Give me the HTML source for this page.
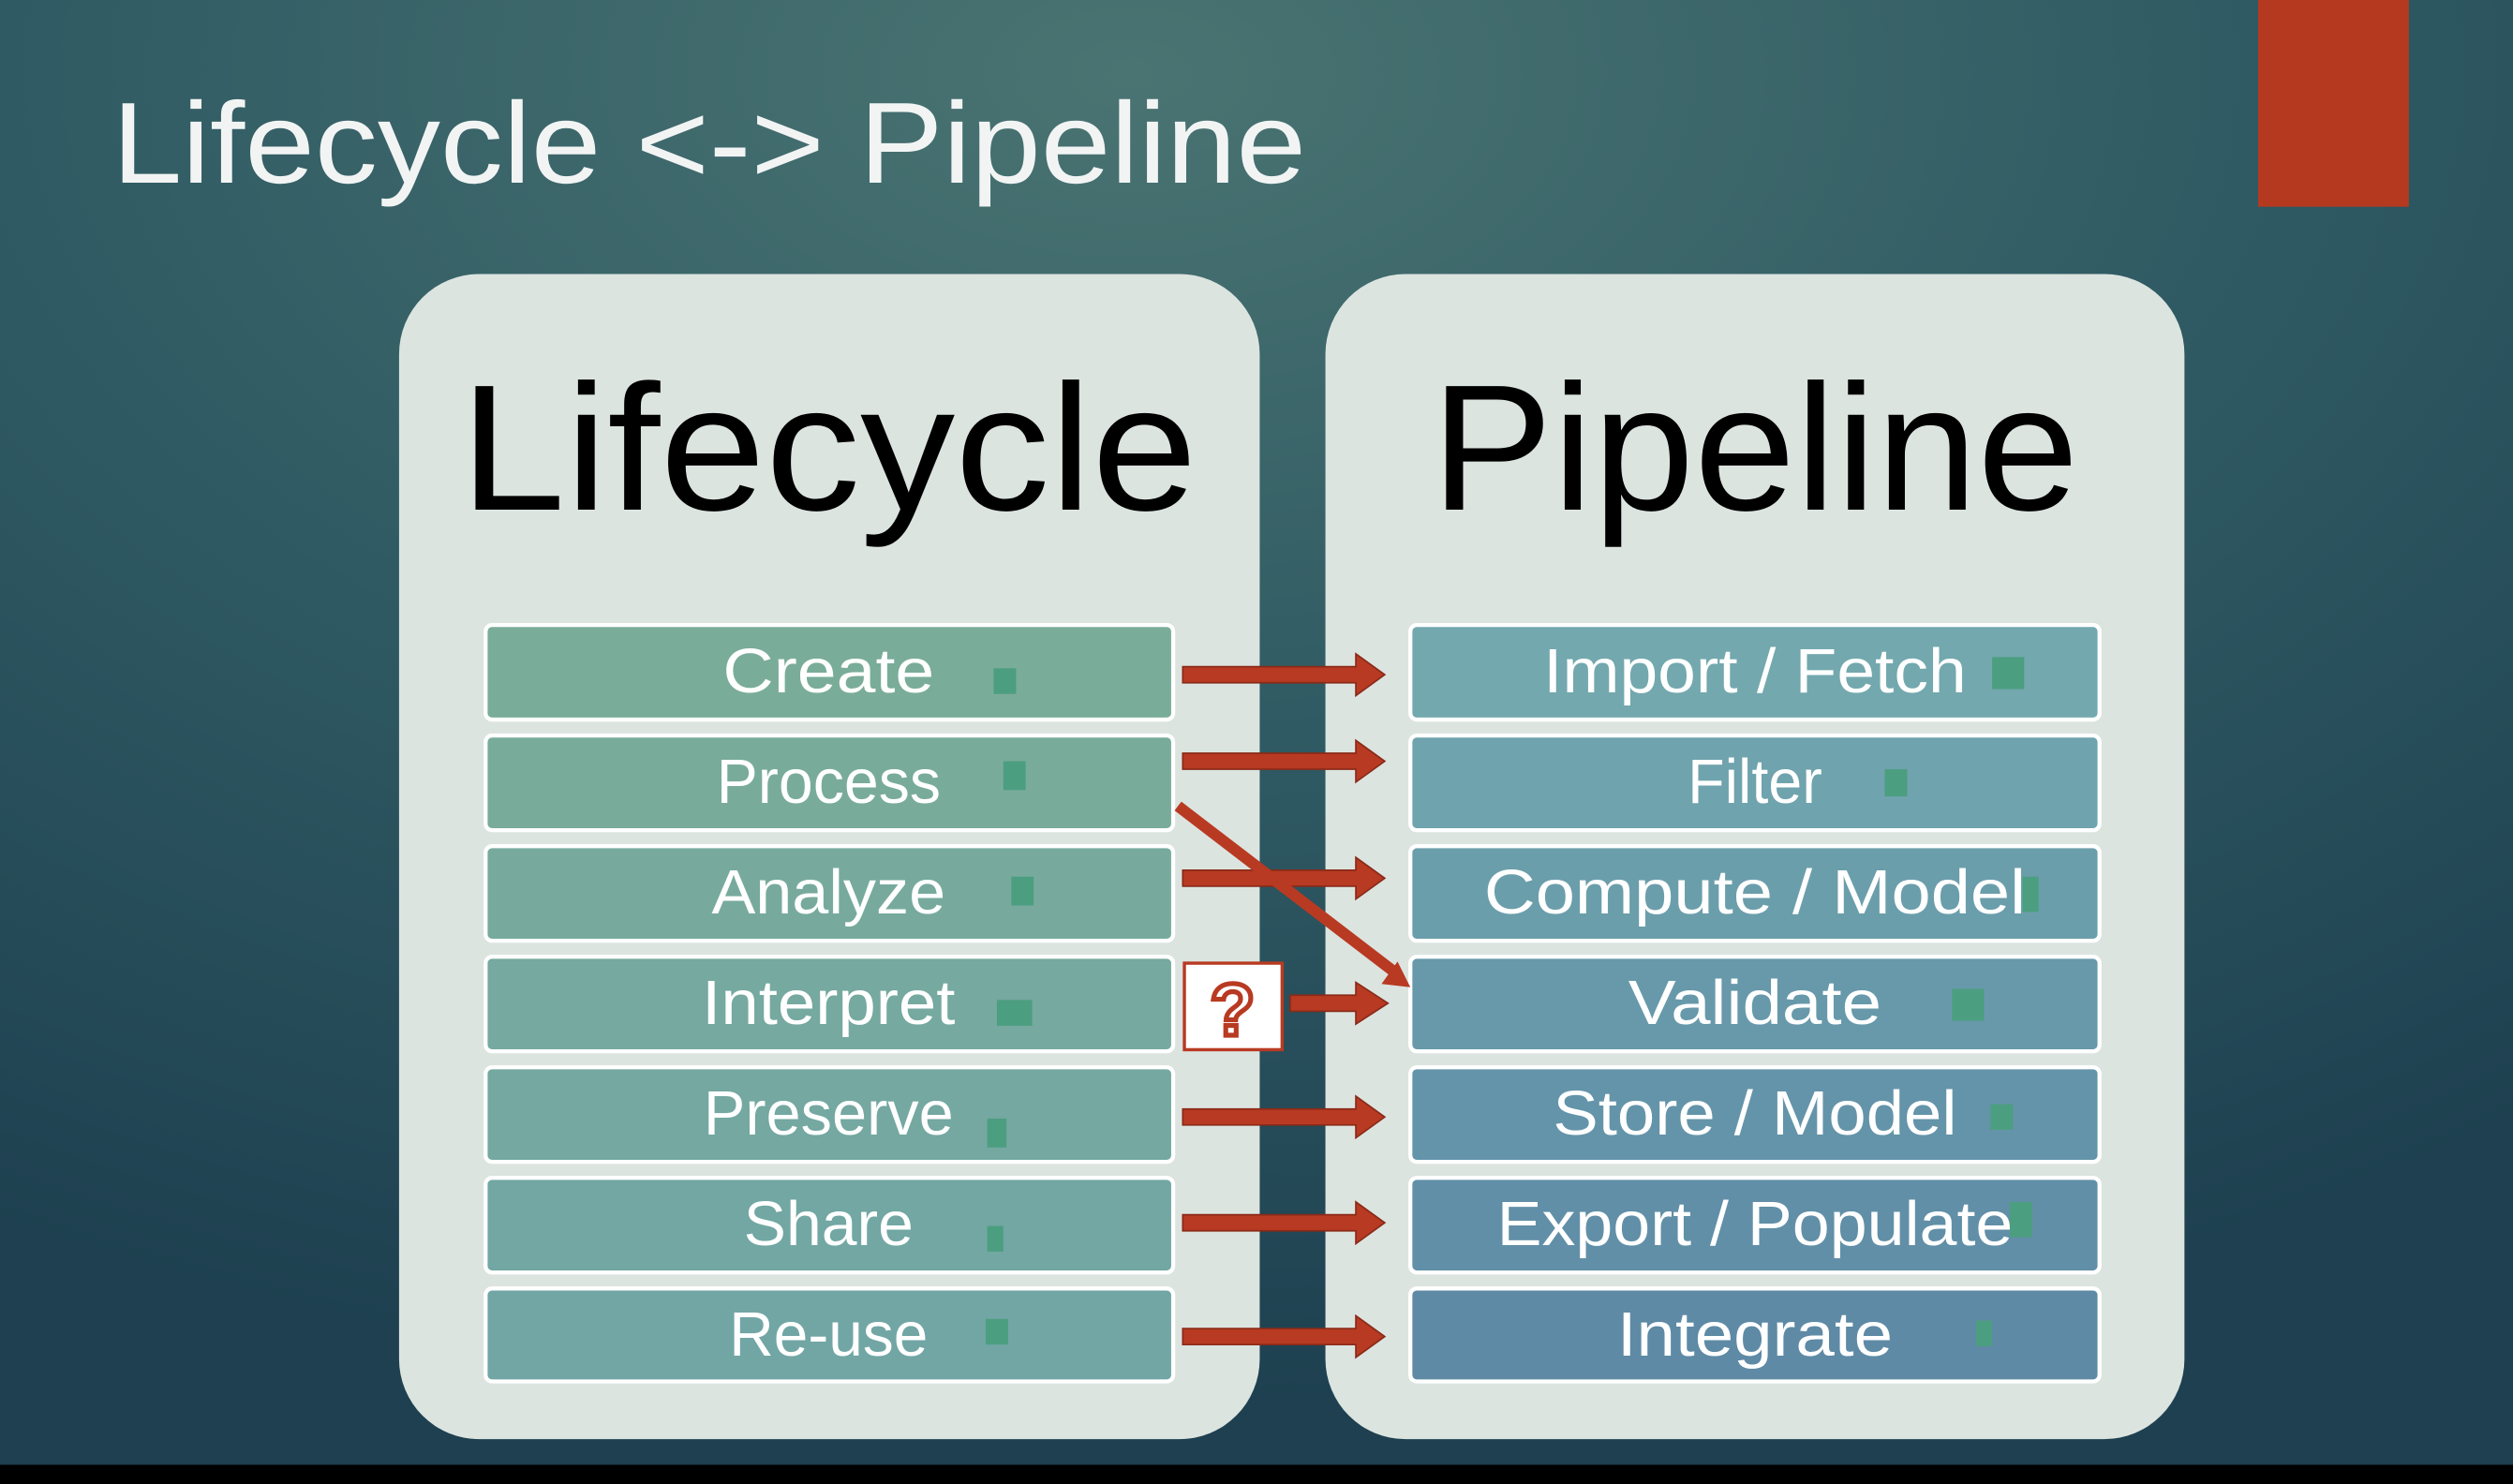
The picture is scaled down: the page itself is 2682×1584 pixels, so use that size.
<!DOCTYPE html>
<html><head><style>
html,body{margin:0;padding:0;width:2682px;height:1584px;overflow:hidden;background:#000}
svg{display:block}
text{font-family:"Liberation Sans",sans-serif}
</style></head><body>
<svg width="2682" height="1584" viewBox="0 0 1568 926" preserveAspectRatio="none" xmlns="http://www.w3.org/2000/svg">
<defs>
<radialGradient id="bg" cx="0.45" cy="0.05" r="0.9">
<stop offset="0" stop-color="#4a7472"/><stop offset="0.5" stop-color="#2f5a63"/><stop offset="1" stop-color="#1e4050"/>
</radialGradient>
</defs>
<rect x="0" y="0" width="1568" height="926" fill="url(#bg)"/>
<rect x="0" y="914" width="1568" height="12" fill="#000"/>
<rect x="1409" y="0" width="94" height="129" fill="#b5391f"/>
<text x="70" y="114" font-size="72" fill="#f2f4f4" textLength="745" lengthAdjust="spacingAndGlyphs">Lifecycle &lt;-&gt; Pipeline</text>
<rect x="249" y="171" width="537" height="727" rx="50" fill="#dce4e0"/>
<rect x="827" y="171" width="536" height="727" rx="50" fill="#dce4e0"/>
<text x="287" y="318" font-size="112" fill="#000" textLength="460" lengthAdjust="spacingAndGlyphs">Lifecycle</text>
<text x="893" y="318" font-size="112" fill="#000" textLength="404" lengthAdjust="spacingAndGlyphs">Pipeline</text>
<g stroke="#fff" stroke-width="2.5">
<rect x="303" y="390" width="429" height="59" rx="4" fill="#7aac9a"/>
<rect x="303" y="459" width="429" height="59" rx="4" fill="#79ab9b"/>
<rect x="303" y="528" width="429" height="59" rx="4" fill="#77aa9d"/>
<rect x="303" y="597" width="429" height="59" rx="4" fill="#76a99f"/>
<rect x="303" y="666" width="429" height="59" rx="4" fill="#74a8a1"/>
<rect x="303" y="735" width="429" height="59" rx="4" fill="#72a7a3"/>
<rect x="303" y="804" width="429" height="58" rx="4" fill="#71a6a5"/>
<rect x="880" y="390" width="430" height="59" rx="4" fill="#73a8ae"/>
<rect x="880" y="459" width="430" height="59" rx="4" fill="#6fa3ad"/>
<rect x="880" y="528" width="430" height="59" rx="4" fill="#6b9eab"/>
<rect x="880" y="597" width="430" height="59" rx="4" fill="#6799aa"/>
<rect x="880" y="666" width="430" height="59" rx="4" fill="#6494a9"/>
<rect x="880" y="735" width="430" height="59" rx="4" fill="#618fa7"/>
<rect x="880" y="804" width="430" height="58" rx="4" fill="#5e8aa5"/>
</g>
<g font-size="39" fill="#fff" text-anchor="middle">
<text x="517" y="432" textLength="132" lengthAdjust="spacingAndGlyphs">Create</text>
<text x="517" y="501" textLength="140" lengthAdjust="spacingAndGlyphs">Process</text>
<text x="517" y="570" textLength="146" lengthAdjust="spacingAndGlyphs">Analyze</text>
<text x="517" y="639" textLength="158" lengthAdjust="spacingAndGlyphs">Interpret</text>
<text x="517" y="708" textLength="156" lengthAdjust="spacingAndGlyphs">Preserve</text>
<text x="517" y="777" textLength="106" lengthAdjust="spacingAndGlyphs">Share</text>
<text x="517" y="846" textLength="124" lengthAdjust="spacingAndGlyphs">Re-use</text>
<text x="1095" y="432" textLength="264" lengthAdjust="spacingAndGlyphs">Import / Fetch</text>
<text x="1095" y="501" textLength="84" lengthAdjust="spacingAndGlyphs">Filter</text>
<text x="1095" y="570" textLength="338" lengthAdjust="spacingAndGlyphs">Compute / Model</text>
<text x="1095" y="639" textLength="158" lengthAdjust="spacingAndGlyphs">Validate</text>
<text x="1095" y="708" textLength="252" lengthAdjust="spacingAndGlyphs">Store / Model</text>
<text x="1095" y="777" textLength="322" lengthAdjust="spacingAndGlyphs">Export / Populate</text>
<text x="1095" y="846" textLength="172" lengthAdjust="spacingAndGlyphs">Integrate</text>
</g>
<g fill="#4c9e80">
<rect x="620" y="417" width="14" height="16"/><rect x="626" y="475" width="14" height="18"/>
<rect x="631" y="547" width="14" height="18"/><rect x="622" y="624" width="22" height="16"/>
<rect x="616" y="698" width="12" height="18"/><rect x="616" y="765" width="10" height="16"/>
<rect x="615" y="823" width="14" height="16"/>
<rect x="1243" y="410" width="20" height="20"/><rect x="1176" y="480" width="14" height="17"/>
<rect x="1262" y="547" width="10" height="22"/><rect x="1218" y="617" width="20" height="20"/>
<rect x="1242" y="689" width="14" height="16"/><rect x="1254" y="750" width="14" height="22"/>
<rect x="1233" y="824" width="10" height="16"/>
</g>
<g fill="#b83a22" stroke="#8a2a18" stroke-width="1">
<path d="M738 416 H846 V408 L864 421 L846 434 V426 H738 Z"/>
<path d="M738 470 H846 V462 L864 475 L846 488 V480 H738 Z"/>
<path d="M738 543 H846 V535 L864 548 L846 561 V553 H738 Z"/>
<path d="M805 621 H846 V613 L866 626 L846 639 V631 H805 Z"/>
<path d="M738 692 H846 V684 L864 697 L846 710 V702 H738 Z"/>
<path d="M738 758 H846 V750 L864 763 L846 776 V768 H738 Z"/>
<path d="M738 829 H846 V821 L864 834 L846 847 V839 H738 Z"/>
</g>
<line x1="735" y1="503" x2="872" y2="608" stroke="#b83a22" stroke-width="7"/>
<path d="M880 616 L862 614 L872 600 Z" fill="#b83a22"/>
<rect x="739" y="601" width="61" height="54" fill="#fff" stroke="#b83a22" stroke-width="2"/>
<text x="769" y="646" font-size="46" text-anchor="middle" fill="#fff" stroke="#b83a22" stroke-width="3" font-weight="bold">?</text>
</svg>
</body></html>
